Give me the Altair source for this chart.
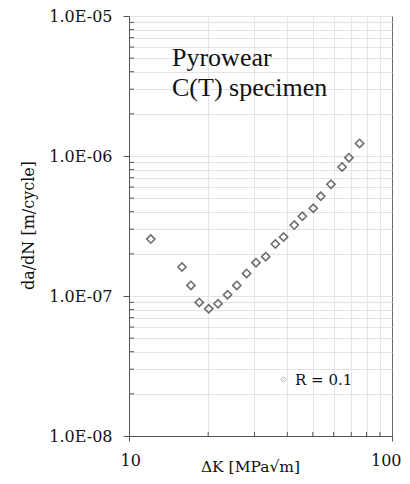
import altair as alt
import pandas as pd

# Data
dk = [12.1, 15.9, 17.2, 18.5, 20.1, 21.8, 23.7, 25.7, 28.0, 30.4, 33.1,
      36.0, 38.7, 42.5, 45.6, 50.2, 53.6, 58.6, 64.6, 68.6, 75.3]
dadn = [2.55e-7, 1.61e-7, 1.19e-7, 9.0e-8, 8.1e-8, 8.8e-8, 1.02e-7, 1.19e-7,
        1.45e-7, 1.73e-7, 1.91e-7, 2.35e-7, 2.64e-7, 3.21e-7, 3.71e-7, 4.23e-7,
        5.15e-7, 6.28e-7, 8.34e-7, 9.73e-7, 1.23e-6]
series = "R = 0.1"

x_major = [10, 100]
x_minor = [20, 30, 40, 50, 60, 70, 80, 90]
y_major = [1e-8, 1e-7, 1e-6, 1e-5]
y_minor = [m * d for d in [1e-8, 1e-7, 1e-6] for m in range(2, 10)]
note_lines = ["Pyrowear", "C(T) specimen"]

df = pd.DataFrame({"dk": dk, "dadn": dadn, "series": [series] * len(dk)})
df_xminor = pd.DataFrame({"v": x_minor})
df_yminor = pd.DataFrame({"v": y_minor})

SERIF = "DejaVu Serif"
xscale = alt.Scale(type="log", domain=[10, 100], nice=False)
yscale = alt.Scale(type="log", domain=[1e-8, 1e-5], nice=False)

W, H = 263, 420

grid = alt.Chart(df).mark_point(opacity=0).encode(
    x=alt.X("dk:Q", scale=xscale,
            axis=alt.Axis(orient="top", values=x_minor, grid=True, gridColor="#e6e6e6", gridWidth=1,
                          labels=False, ticks=False, domain=False, title=None)),
    y=alt.Y("dadn:Q", scale=yscale,
            axis=alt.Axis(orient="right", values=y_minor + y_major, grid=True, gridColor="#e3e3e3",
                          gridWidth=1, labels=False, ticks=False, domain=False, title=None)),
)

ylab = "'1.0E-0' + (-round(log(datum.value)/LN10))"

points = alt.Chart(df).mark_point(
    shape="diamond", filled=False, size=68, strokeWidth=1.6, color="#333333"
).encode(
    x=alt.X("dk:Q", scale=xscale,
            axis=alt.Axis(orient="bottom", values=x_major, grid=False, format="d",
                          labelFont=SERIF, labelFontSize=16, labelColor="#111",
                          labelPadding=11, tickSize=5, tickColor="#555", domainColor="#555",
                          labelFlush=True, labelFlushOffset=9,
                          title="ΔK [MPa√m]", titleFont=SERIF, titleFontSize=15.5,
                          titleFontWeight="normal", titleColor="#111",
                          titleX=121, titleY=35, titleBaseline="alphabetic", titleAlign="center")),
    y=alt.Y("dadn:Q", scale=yscale,
            axis=alt.Axis(orient="left", values=y_major, grid=False, labelExpr=ylab,
                          labelFont=SERIF, labelFontSize=16, labelColor="#111",
                          labelPadding=11, tickSize=6, tickColor="#555", domainColor="#555",
                          labelFlush=False,
                          title="da/dN [m/cycle]", titleFont=SERIF, titleFontSize=16,
                          titleFontWeight="normal", titleColor="#111",
                          titleX=-96, titleY=209, titleAngle=270,
                          titleBaseline="alphabetic", titleAlign="center")),
    shape=alt.Shape("series:N", scale=alt.Scale(range=["diamond"]),
                    legend=alt.Legend(title=None, orient="none", legendX=147, legendY=356,
                                      labelFont=SERIF, labelFontSize=15, labelColor="#111",
                                      symbolSize=32, symbolStrokeColor="#999",
                                      symbolStrokeWidth=1, symbolFillColor="white",
                                      labelOffset=4)),
)

yticks = alt.Chart(df_yminor).mark_rule(color="#555", strokeWidth=1).encode(
    y=alt.Y("v:Q", scale=yscale, axis=None),
    x=alt.value(0), x2=alt.value(5),
)
xticks = alt.Chart(df_xminor).mark_rule(color="#555", strokeWidth=1).encode(
    x=alt.X("v:Q", scale=xscale, axis=None),
    y=alt.value(H), y2=alt.value(H - 4),
)

note = alt.Chart(pd.DataFrame({"t": [0]})).mark_text(
    text=note_lines, font="Liberation Serif", fontSize=26, lineHeight=29.5,
    align="left", baseline="alphabetic", color="#111"
).encode(x=alt.value(43), y=alt.value(50))

chart = alt.layer(grid, points, yticks, xticks, note).resolve_axis(
    x="independent", y="independent"
).properties(
    width=W, height=H,
    autosize=alt.AutoSizeParams(type="none"),
    padding={"left": 121, "top": 8, "right": 10, "bottom": 39},
).configure_view(stroke="#6a6a6a", strokeWidth=1)

chart.save("out.html", embed_options={"renderer": "svg", "actions": False})
